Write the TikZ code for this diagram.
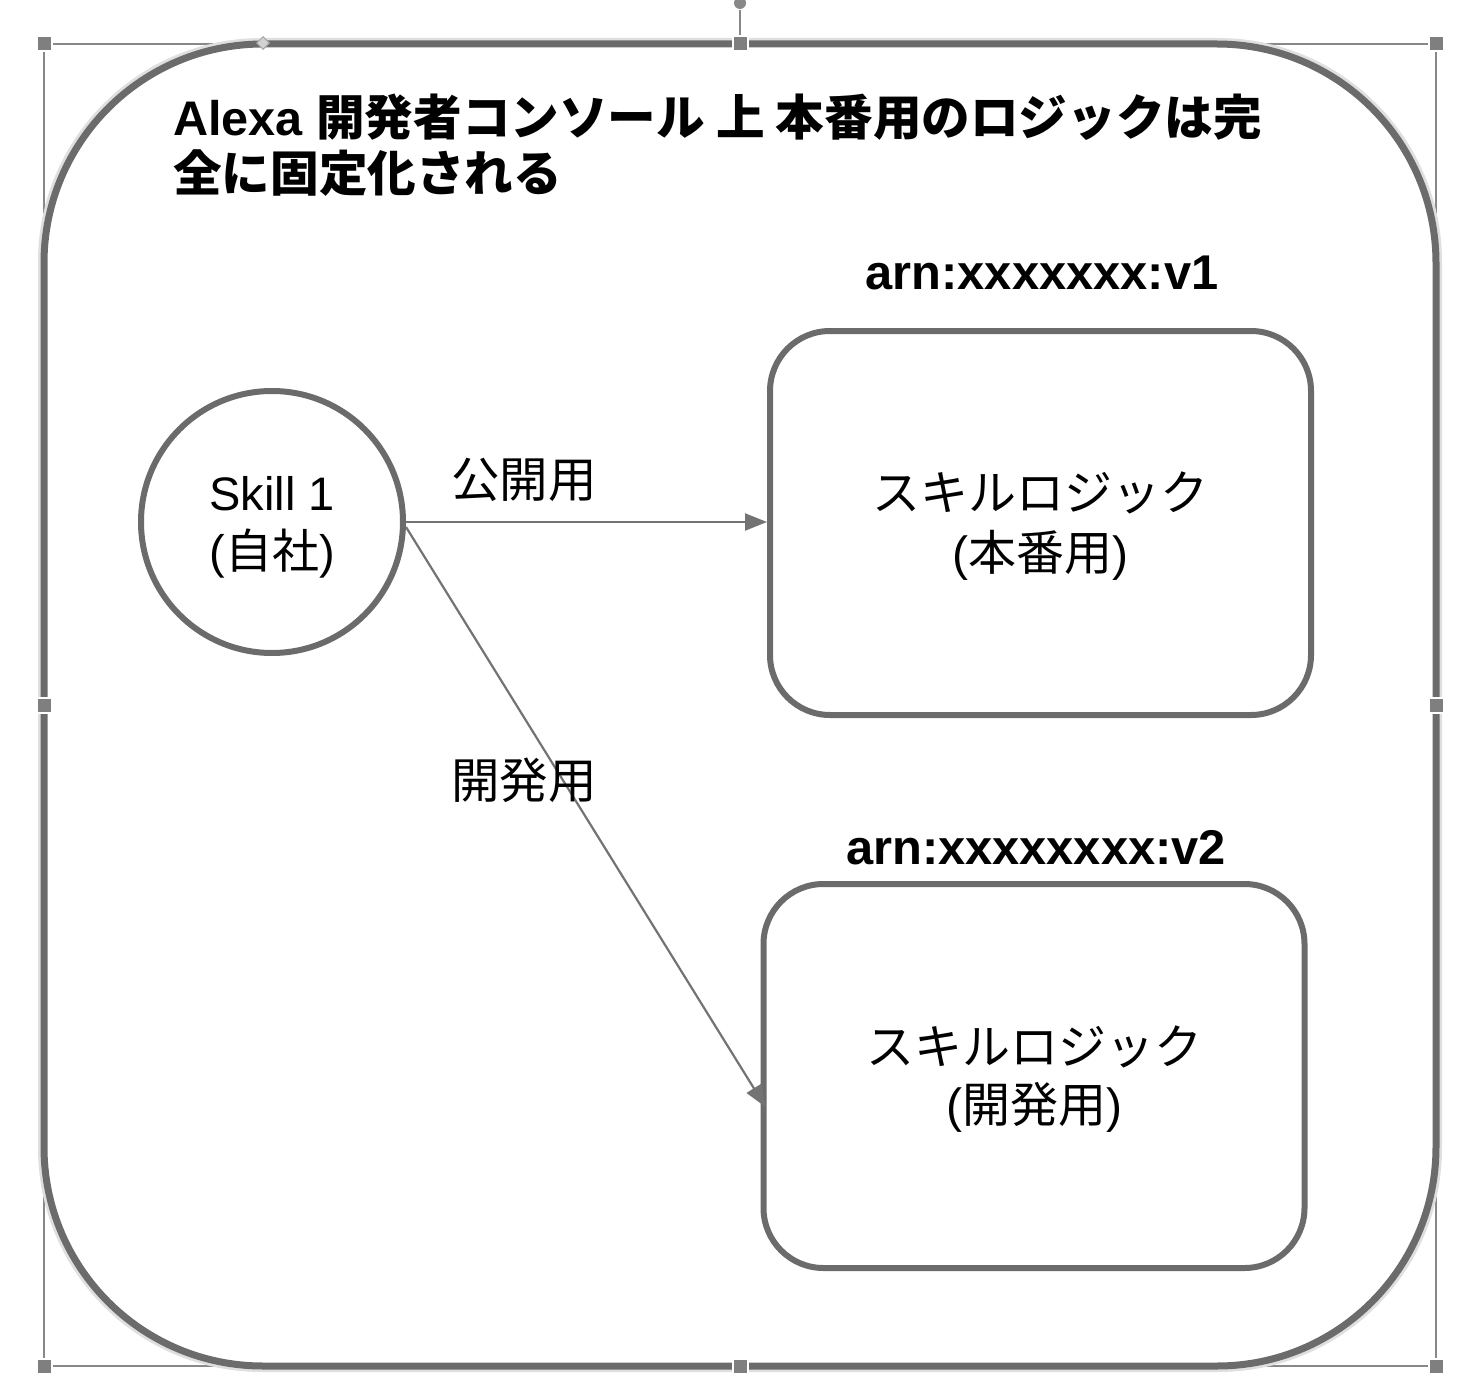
\documentclass[tikz,border=0pt]{standalone}
\usepackage{fontspec}
\setmainfont{Liberation Sans}
\newfontfamily\jp{Noto Sans CJK JP}
\usetikzlibrary{arrows.meta,calc,shapes.geometric}
\definecolor{shapegray}{HTML}{6B6B6B}
\definecolor{conngray}{HTML}{737373}
\definecolor{selgray}{HTML}{888888}
\definecolor{handlegray}{HTML}{7F7F7F}
\tikzset{
  shapeline/.style={draw=shapegray, line width=6},
  boxnode/.style={shapeline, rectangle, rounded corners=60, minimum width=541, minimum height=384, inner sep=0},
  skillnode/.style={shapeline, circle, minimum size=262, inner sep=0},
  innertext/.style={align=center, inner sep=0},
  connline/.style={draw=conngray, line width=2.2, -{Triangle[length=22,width=17]}},
  lbl/.style={font=\fontsize{48.5}{56}\selectfont, inner sep=0},
  arnlbl/.style={font=\bfseries\fontsize{48.8}{56}\selectfont, inner sep=0},
  titlelbl/.style={font=\bfseries\fontsize{48.6}{57}\selectfont, inner sep=0, anchor=base west},
  handle/.style={rectangle, fill=handlegray, draw=white, line width=2, minimum size=15, inner sep=0},
}
\begin{document}
\begin{tikzpicture}[x=1pt,y=-1pt]
\useasboundingbox (0,0) rectangle (1476,1394);
% selection frame
\draw[selgray, line width=2] (44,44) rectangle (1436,1366);
\draw[selgray, line width=2] (740,10) -- (740,36);
\fill[selgray] (740,3) circle (6);
% outer rounded container
\draw[gray!25, line width=4, rounded corners=222] (40,40) rectangle (1440,1370);
\draw[shapegray, line width=7, rounded corners=219] (44,44) rectangle (1436,1366);
% handles
\foreach \hx/\hy in {44/44,740/44,1436/44,44/705,1436/705,44/1366,740/1366,1436/1366}
  \node[handle] at (\hx,\hy) {};
\node[diamond, fill=gray!35, draw=gray!70, line width=1, minimum size=13, inner sep=0] (rad) at (263,43) {};
% title
\node[titlelbl] (t1) at (173,136) {Alexa {\jp 開発者コンソール 上 本番用のロジックは完}};
\node[titlelbl] (t2) at (173,192) {\jp 全に固定化される};
% nodes
\node[skillnode] (skill) at (272,522) {};
\node[boxnode] (prod) at (1040.5,523) {};
\node[boxnode] (dev) at (1034,1076) {};
\node[innertext, font=\fontsize{47}{58}\selectfont] (skilltxt) at ($(skill)+(0,5)$) {Skill 1\\({\jp 自社})};
\node[innertext, font=\fontsize{48}{60}\selectfont] (prodtxt) at ($(prod)+(0,3)$) {{\jp スキルロジック}\\({\jp 本番用})};
\node[innertext, font=\fontsize{48}{58}\selectfont] (devtxt) at ($(dev)+(0,3)$) {{\jp スキルロジック}\\({\jp 開発用})};
\node[arnlbl] (arn1) at (1042,273) {arn:xxxxxxx:v1};
\node[arnlbl] (arn2) at (1036,848) {arn:xxxxxxxx:v2};
% connectors
\draw[connline] (skill.east) -- (prod.west |- skill.east);
\coordinate (devend) at ($(dev.west)+(5,31)$);
\draw[connline] ($(skill.east)+(0,5)$) -- (devend);
\node[lbl] (l1) at (524,480) {\jp 公開用};
\node[lbl] (l2) at (524,780) {\jp 開発用};
\end{tikzpicture}
\end{document}
